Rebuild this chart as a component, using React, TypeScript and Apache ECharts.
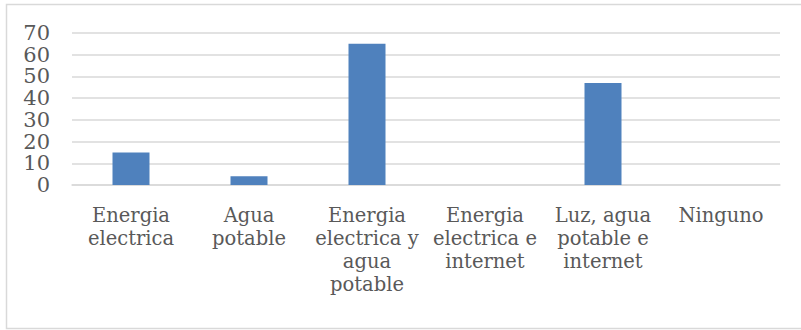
import React, { useEffect, useRef } from "react";
import * as echarts from "echarts";

const categories: string[] = [
  "Energia\nelectrica",
  "Agua\npotable",
  "Energia\nelectrica y\nagua\npotable",
  "Energia\nelectrica e\ninternet",
  "Luz, agua\npotable e\ninternet",
  "Ninguno",
];
const values: number[] = [15, 4, 65, 0, 47, 0];
const yTicks = { min: 0, max: 70, interval: 10 };

const FONT = "'DejaVu Serif', serif";
const TEXT_COLOR = "#595959";
const GRID_COLOR = "#D9D9D9";
const BAR_COLOR = "#4F81BD";

export default function App() {
  const ref = useRef<HTMLDivElement>(null);

  useEffect(() => {
    if (!ref.current) return;
    const chart = echarts.init(ref.current, undefined, { renderer: "svg" });
    chart.setOption({
      animation: false,
      backgroundColor: "#ffffff",
      graphic: [
        {
          type: "rect",
          shape: { x: 6.5, y: 4.5, width: 800, height: 324 },
          style: { fill: "none", stroke: GRID_COLOR, lineWidth: 1.5 },
          silent: true,
        },
      ],
      grid: { left: 72, right: 21, top: 33, bottom: 145, containLabel: false },
      xAxis: {
        type: "category",
        data: categories,
        axisLine: { show: true, lineStyle: { color: GRID_COLOR, width: 1.5 } },
        axisTick: { show: false },
        axisLabel: {
          interval: 0,
          color: TEXT_COLOR,
          fontFamily: FONT,
          fontSize: 19.5,
          lineHeight: 23,
          align: "center",
          verticalAlign: "top",
          margin: 19,
        },
      },
      yAxis: {
        type: "value",
        min: yTicks.min,
        max: yTicks.max,
        interval: yTicks.interval,
        axisLine: { show: false },
        axisTick: { show: false },
        splitLine: { show: true, lineStyle: { color: GRID_COLOR, width: 1.5 } },
        axisLabel: {
          color: TEXT_COLOR,
          fontFamily: FONT,
          fontSize: 21,
          margin: 22,
        },
      },
      series: [
        {
          type: "bar",
          data: values,
          barWidth: 37,
          itemStyle: { color: BAR_COLOR },
        },
      ],
    });
    return () => chart.dispose();
  }, []);

  return (
    <div
      ref={ref}
      style={{ position: "fixed", left: 0, top: 0, width: 801, height: 330 }}
    />
  );
}
